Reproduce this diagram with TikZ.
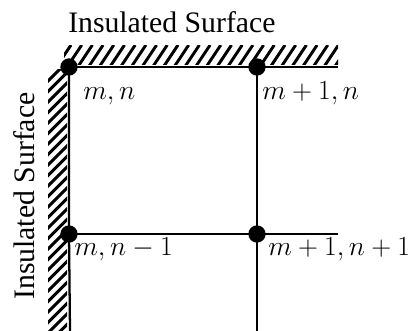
\documentclass[tikz,border=0pt]{standalone}
\usepackage{fontspec}
\setmainfont{Liberation Serif}
\begin{document}
\begin{tikzpicture}[x=0.75pt,y=-0.75pt,
  gridline/.style={line width=1.7pt},
  hatchline/.style={line width=2.2pt},
  nodedot/.style={circle,fill=black,inner sep=0pt,minimum size=13pt},
  lbl/.style={anchor=base west,inner sep=0pt,font=\fontsize{22}{26}\selectfont},
  title/.style={anchor=base west,inner sep=0pt,font=\fontsize{22.3}{26}\selectfont}]
\useasboundingbox (0,0) rectangle (420,331);
% hatching
\begin{scope}
  \clip (64,46) rectangle (338,65);
  \foreach \i in {0,...,27} {
    \draw[hatchline] (57+\i*10.7,66) -- (71+\i*10.7,45);
  }
\end{scope}
\begin{scope}
  \clip (48,70) rectangle (67,331);
  \foreach \i in {0,...,25} {
    \draw[hatchline] (47,82+\i*10.5) -- (68,61+\i*10.5);
  }
\end{scope}
% nodes
\node[nodedot] (mn) at (69,67) {};
\node[nodedot] (m1n) at (257,67) {};
\node[nodedot] (mn1) at (69,234) {};
\node[nodedot] (m1n1) at (257,234) {};
\coordinate (topend) at (338,67);
\coordinate (midend) at (338,234);
\coordinate (vbot) at (257,331);
\coordinate (wbot) at (70,331);
% lines
\draw[gridline] (mn.center) -- (m1n.center) -- (topend);
\draw[gridline] (mn1.center) -- (m1n1.center) -- (midend);
\draw[gridline] (m1n.center) -- (m1n1.center) -- (vbot);
\draw[gridline] (mn.center) -- (mn1.center) -- (wbot);
% labels
\node[lbl] (l1) at (83,100) {$m,n$};
\node[lbl] (l2) at (262,100) {$m+1,n$};
\node[lbl] (l3) at (74,255) {$m,n-1$};
\node[lbl] (l4) at (268,255) {$m+1,n+1$};
\node[title] (t1) at (68,33) {Insulated Surface};
\node[title,rotate=90] (t2) at (34,300) {Insulated Surface};
\end{tikzpicture}
\end{document}
